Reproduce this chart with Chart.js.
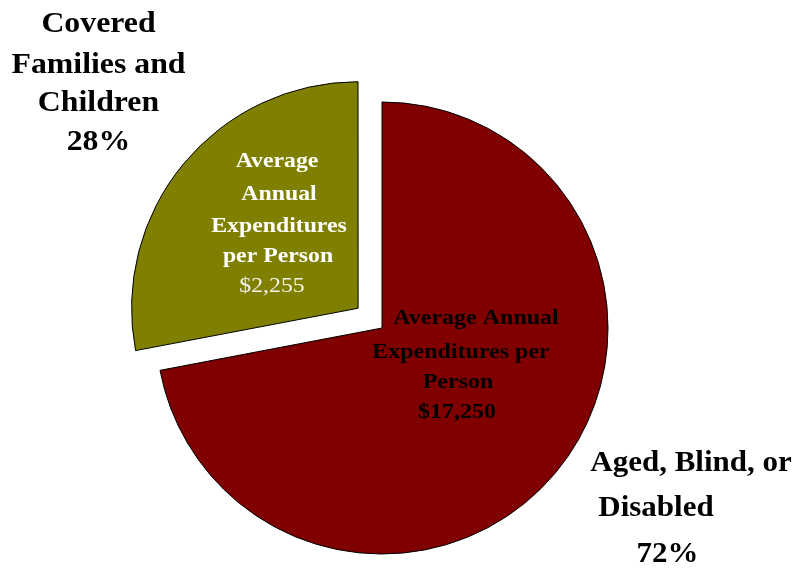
<!DOCTYPE html>
<html>
<head>
<meta charset="utf-8">
<script src="https://cdn.jsdelivr.net/npm/chart.js@4/dist/chart.umd.min.js"></script>
<style>
  html, body { margin: 0; padding: 0; background: #ffffff; }
  #wrap { width: 801px; height: 569px; position: relative; }
</style>
</head>
<body>
<div id="wrap"><canvas id="c" width="801" height="569"></canvas></div>
<script>
// ---- data ----
const categories = ['Aged, Blind, or Disabled', 'Covered Families and Children'];
const shares = [72, 28];                 // percent of total
const avgExpenditures = [17250, 2255];   // average annual expenditures per person ($)
const categoryLines = [['Aged, Blind, or', 'Disabled'], ['Covered', 'Families and', 'Children']];
const innerLines = [['Average Annual', 'Expenditures per', 'Person'], ['Average', 'Annual', 'Expenditures', 'per Person']];

const fmtDollars = v => '$' + v.toLocaleString('en-US');

const SERIF = '"Liberation Serif", "Times New Roman", serif';

function drawLine(ctx, text, x, y, size, bold, color, hscale) {
  ctx.save();
  ctx.font = (bold ? 'bold ' : '') + size + 'px ' + SERIF;
  ctx.fillStyle = color;
  ctx.textAlign = 'center';
  ctx.textBaseline = 'alphabetic';
  ctx.translate(x, y);
  ctx.scale(hscale, 1);
  ctx.fillText(text, 0, 0);
  ctx.restore();
}

const labelPlugin = {
  id: 'labels',
  afterDatasetsDraw(chart) {
    const ctx = chart.ctx;
    const arcs = chart.getDatasetMeta(0).data;
    const cx = arcs[0].x, cy = arcs[0].y;

    // Outer label: Aged, Blind, or Disabled (72%)
    const a = categoryLines[0];
    drawLine(ctx, a[0], cx + 309, cy + 143, 29.5, true, '#000', 1.05);
    drawLine(ctx, a[1], cx + 274, cy + 188, 29.5, true, '#000', 1.05);
    drawLine(ctx, shares[0] + '%', cx + 285.5, cy + 234, 29.5, true, '#000', 1.05);

    // Outer label: Covered Families and Children (28%)
    const b = categoryLines[1];
    const bx = cx - 283.5;
    drawLine(ctx, b[0], bx, cy - 296, 30, true, '#000', 1.06);
    drawLine(ctx, b[1], bx, cy - 255.5, 30, true, '#000', 1.06);
    drawLine(ctx, b[2], bx, cy - 217, 30, true, '#000', 1.06);
    drawLine(ctx, shares[1] + '%', bx, cy - 178, 30, true, '#000', 1.06);

    // Inner label in large (red) slice
    const r = innerLines[0];
    drawLine(ctx, r[0], cx + 94, cy - 3.7, 22, true, '#000', 1.09);
    drawLine(ctx, r[1], cx + 79, cy + 30, 22, true, '#000', 1.09);
    drawLine(ctx, r[2], cx + 76, cy + 60, 22, true, '#000', 1.09);
    drawLine(ctx, fmtDollars(avgExpenditures[0]), cx + 75, cy + 90, 22, true, '#000', 1.09);

    // Inner label in exploded (olive) slice
    const o = innerLines[1];
    const ox = cx - 104;
    drawLine(ctx, o[0], ox - 1, cy - 161.3, 22, true, '#ffffff', 1.08);
    drawLine(ctx, o[1], ox + 1, cy - 128, 22, true, '#ffffff', 1.08);
    drawLine(ctx, o[2], ox + 1, cy - 96.3, 22, true, '#ffffff', 1.08);
    drawLine(ctx, o[3], ox, cy - 66.3, 22, true, '#ffffff', 1.08);
    drawLine(ctx, fmtDollars(avgExpenditures[1]), ox - 6, cy - 36.3, 22, false, '#f4f4ec', 1.08);
  }
};

new Chart(document.getElementById('c'), {
  type: 'pie',
  data: {
    labels: categories,
    datasets: [{
      data: shares,
      backgroundColor: ['#800000', '#808000'],
      borderColor: '#000000',
      borderWidth: 1,
      offset: [0, 124]
    }]
  },
  options: {
    responsive: false,
    animation: false,
    events: [],
    radius: 226,
    rotation: 0,
    layout: { padding: { left: 0, right: 37, top: 87, bottom: 0 } },
    plugins: {
      legend: { display: false },
      tooltip: { enabled: false },
      title: { display: false }
    }
  },
  plugins: [labelPlugin]
});
</script>
</body>
</html>
